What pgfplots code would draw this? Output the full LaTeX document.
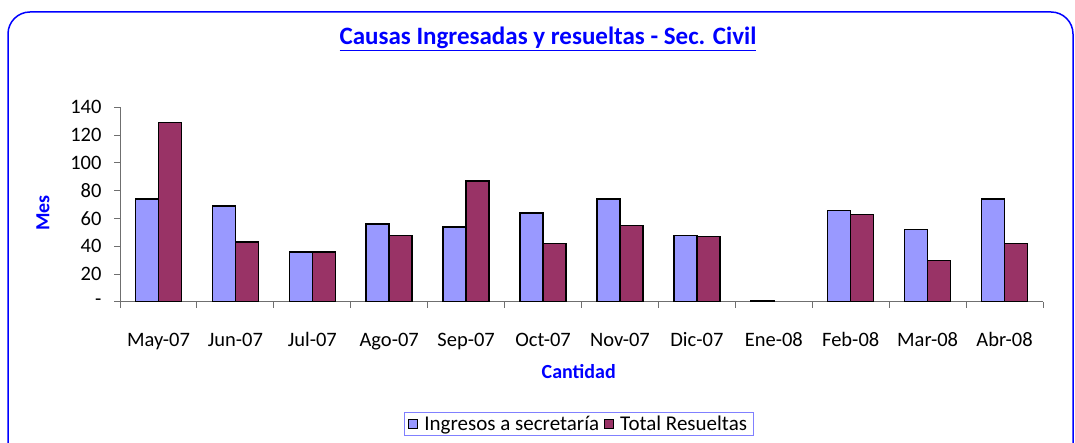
\documentclass[border=0pt]{standalone}
\usepackage{fontspec}
\setmainfont{Carlito}
\usepackage{pgfplots}
\pgfplotsset{compat=1.18}
\definecolor{barblue}{HTML}{9999FF}
\definecolor{barred}{HTML}{993366}
\definecolor{ttlblue}{HTML}{0000FF}
\definecolor{axgray}{HTML}{6F6F6F}
\definecolor{legborder}{HTML}{8080FF}

\pgfplotsset{
  sqlegend/.style={legend image code/.code={\draw[##1,line width=1pt] (0pt,-4.5pt) rectangle (9pt,4.5pt);}},
}

\begin{document}
\begin{tikzpicture}[x=1pt,y=1pt]
\useasboundingbox (0,0) rectangle (1075,443);
\draw[ttlblue, line width=1.5pt, rounded corners=22pt] (8,-40) rectangle (1073,431);
\begin{axis}[
  at={(120pt,141pt)}, anchor=south west,
  scale only axis, width=923pt, height=194.6pt,
  ybar=0pt, bar width=23pt,
  xmin=-0.5, xmax=11.5, ymin=0, ymax=140,
  axis lines=left,
  axis line style={-, draw=axgray, line width=1pt},
  tick style={draw=axgray, line width=1pt},
  tick align=outside, major tick length=6pt,
  xtick={-0.5,0.5,...,11.5},
  x tick label as interval,
  xticklabels={May-07,Jun-07,Jul-07,Ago-07,Sep-07,Oct-07,Nov-07,Dic-07,Ene-08,Feb-08,Mar-08,Abr-08},
  ytick={0,20,...,140},
  yticklabels={-,20,40,60,80,100,120,140},
  tick label style={font=\fontsize{20.5}{24}\selectfont},
  xticklabel style={anchor=base, yshift=-39pt},
  yticklabel style={anchor=east, xshift=-9pt},
  title={\underline{Causas Ingresadas y resueltas - Sec. Civil}},
  title style={at={(0.4637,1.32)}, anchor=center, text=ttlblue, font=\bfseries\fontsize{25}{29}\selectfont},
  xlabel={Cantidad},
  xlabel style={at={(0.497,-0.355)}, anchor=center, text=ttlblue, font=\bfseries\fontsize{20}{24}\selectfont},
  ylabel={Mes},
  ylabel style={at={(-0.0834,0.457)}, anchor=center, rotate=0, text=ttlblue, font=\bfseries\fontsize{20}{24}\selectfont},
  legend style={at={(0.497,-0.627)}, anchor=center, legend columns=2,
    draw=legborder, line width=0.8pt, font=\fontsize{21}{24}\selectfont,
    inner xsep=4pt, inner ysep=1.5pt,
    /tikz/every odd column/.append style={column sep=4pt},
    /tikz/every even column/.append style={column sep=3pt}},
]
\addplot[fill=barblue, draw=black, line width=1.5pt, sqlegend] coordinates {
  (0,74) (1,69) (2,36) (3,56) (4,54) (5,64) (6,74) (7,48) (8,1) (9,66) (10,52) (11,74)};
\addplot[fill=barred, draw=black, line width=1.5pt, sqlegend] coordinates {
  (0,129) (1,43) (2,36) (3,48) (4,87) (5,42) (6,55) (7,47) (9,63) (10,30) (11,42)};
\legend{Ingresos a secretaría,Total Resueltas}
\end{axis}
\end{tikzpicture}
\end{document}
